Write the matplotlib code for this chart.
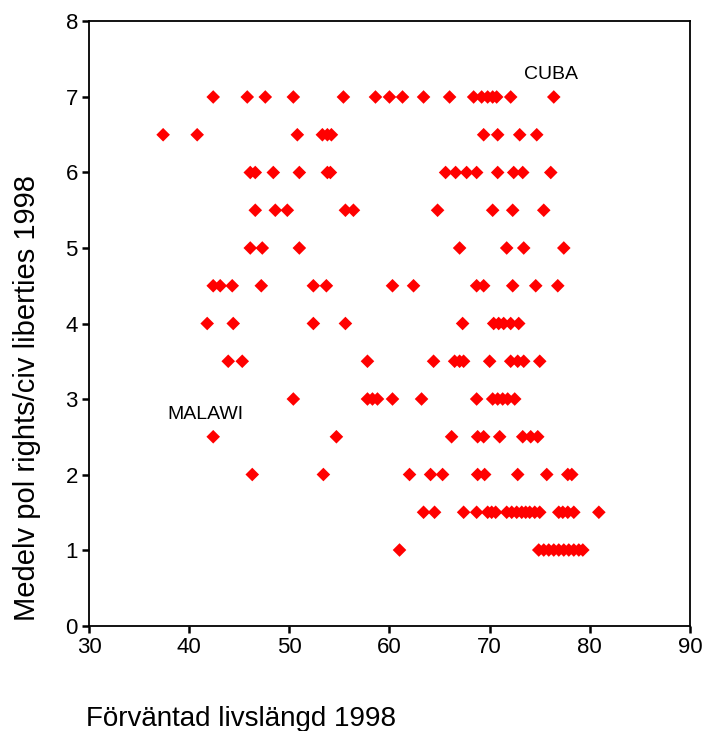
import numpy as np
import matplotlib.pyplot as plt

plt.rcParams["font.family"] = ["Liberation Sans", "DejaVu Sans"]

# life expectancy 1998 for each freedom rating level
rating_levels = [7, 6.5, 6, 5.5, 5, 4.5, 4, 3.5, 3, 2.5, 2, 1.5, 1]
life_7 = [42.4, 45.8, 47.6, 50.4, 55.4, 58.6, 60.0, 61.3, 63.4, 66.0,
          68.4, 69.2, 69.8, 70.3, 70.7, 72.1, 76.4]
life_65 = [37.4, 40.8, 50.8, 53.3, 53.8, 54.2, 69.4, 70.8, 73.0, 74.7]
life_6 = [46.1, 46.6, 48.4, 51.0, 53.8, 54.1, 65.6, 66.6, 67.7, 68.7,
          70.8, 72.4, 73.3, 76.1]
life_55 = [46.6, 48.6, 49.8, 55.6, 56.4, 64.8, 70.3, 72.3, 75.4]
life_5 = [46.1, 47.3, 51.0, 67.0, 71.7, 73.4, 77.4]
life_45 = [42.4, 43.1, 44.3, 47.2, 52.4, 53.7, 60.3, 62.4, 68.7, 69.4,
           72.3, 74.6, 76.8]
life_4 = [41.8, 44.4, 52.4, 55.6, 67.3, 70.4, 70.9, 71.4, 72.1, 72.9]
life_35 = [43.9, 45.3, 57.8, 64.4, 66.5, 67.0, 67.4, 70.0, 72.1, 72.8,
           73.4, 75.0]
life_3 = [50.4, 57.8, 58.3, 58.8, 60.3, 63.2, 68.7, 70.3, 70.8, 71.3,
          71.8, 72.5]
life_25 = [42.4, 54.7, 66.2, 68.8, 69.4, 71.0, 73.3, 74.1, 74.8]
life_2 = [46.3, 53.4, 62.0, 64.1, 65.3, 68.8, 69.5, 72.8, 75.7, 77.8, 78.2]
life_15 = [63.4, 64.5, 67.4, 68.7, 69.8, 70.2, 70.6, 71.7, 72.2, 72.7,
           73.2, 73.6, 74.0, 74.5, 75.0, 76.9, 77.3, 77.8, 78.4, 80.9]
life_1 = [61.0, 74.9, 75.4, 75.9, 76.4, 76.9, 77.4, 77.9, 78.4, 78.9, 79.3]

life_by_level = [life_7, life_65, life_6, life_55, life_5, life_45, life_4,
                 life_35, life_3, life_25, life_2, life_15, life_1]

x_ticks = [30, 40, 50, 60, 70, 80, 90]
y_ticks = [0, 1, 2, 3, 4, 5, 6, 7, 8]

x = np.concatenate([np.array(v, dtype=float) for v in life_by_level])
y = np.concatenate([np.full(len(v), lvl, dtype=float)
                    for lvl, v in zip(rating_levels, life_by_level)])

fig = plt.figure(figsize=(7.03, 7.31), dpi=100)
ax = fig.add_axes([0.1266, 0.1443, 0.8549, 0.8263])

ax.scatter(x, y, marker="D", s=48, color="#ff0000", edgecolors="none",
           zorder=3)

ax.text(73.4, 7.30, "CUBA", fontsize=14, ha="left", va="center")
ax.text(37.8, 2.80, "MALAWI", fontsize=14, ha="left", va="center")

ax.set_xlim(30, 90)
ax.set_ylim(0, 8)
ax.set_xticks(x_ticks)
ax.set_yticks(y_ticks)
ax.tick_params(direction="out", length=5, width=1.8, labelsize=16,
               colors="black", pad=3)
for sp in ax.spines.values():
    sp.set_linewidth(1.3)
    sp.set_color("black")

fig.text(0.122, 0.0068, "Förväntad livslängd 1998", fontsize=20,
         ha="left", va="baseline")
fig.text(0.038, 0.455, "Medelv pol rights/civ liberties 1998", fontsize=21,
         rotation=90, ha="center", va="center")

fig.savefig("out.png", dpi=100)
